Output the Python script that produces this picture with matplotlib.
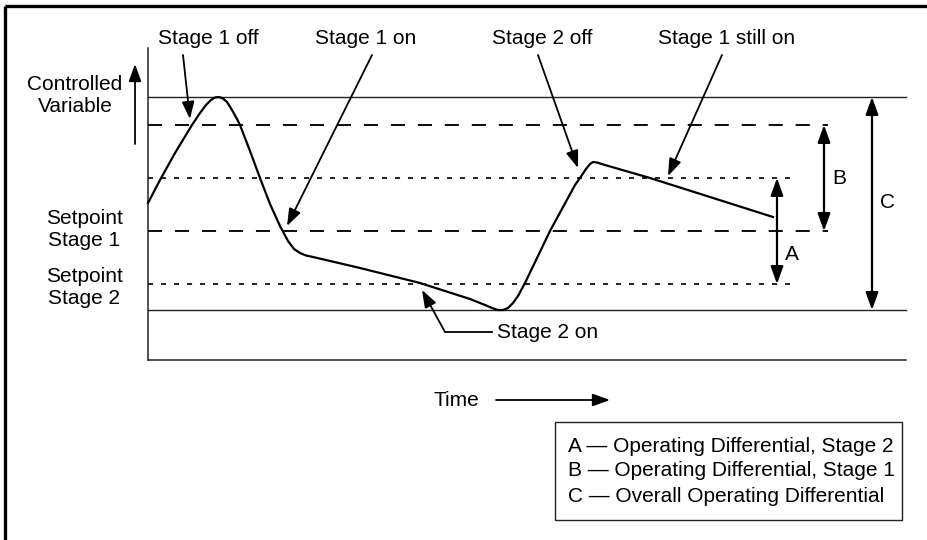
import matplotlib
matplotlib.use("Agg")
import matplotlib.pyplot as plt

# ---------------- data (diagram coordinates: x = time, y = screen-down value) -------------
curve_t = [148, 160, 175, 192, 200, 206, 211, 215, 219, 223, 227, 232, 237, 240, 250, 260,
           270, 280, 288, 294, 300, 306, 313, 360, 420, 470, 485, 492, 498, 503, 508, 513,
           518, 525, 550, 575, 580, 586, 590, 593, 597, 605, 650, 773]
curve_v = [203, 180, 153, 125, 113, 105, 100, 97.5, 97, 98.5, 102, 110, 119, 125, 151, 178,
           204, 226, 241, 249, 253, 255.5, 257, 268, 283, 299, 305, 308, 310, 310, 308, 303,
           296, 283, 231, 185, 178, 169, 164, 162, 162.5, 165, 178, 217]

# horizontal reference levels: (value, style, x_end)
level_values = [97, 125, 178, 231, 284, 310]
level_styles = ["solid", "dashed", "dotted", "dashed", "dotted", "solid"]
level_ends = [906, 828, 793, 828, 793, 906]

axis_left = 148
axis_top = 48
axis_bottom = 360
axis_right = 906

# differential arrows: (label, x, y_from, y_to, label_x, label_y)
diff_labels = ["A", "B", "C"]
diff_x = [777, 824, 872]
diff_from = [178, 125, 97]
diff_to = [284, 231, 310]
diff_label_pos = [(792, 254), (839, 178), (888, 202)]

# event annotations: text, text position, arrow start, arrow tip
event_texts = ["Stage 1 off", "Stage 1 on", "Stage 2 off", "Stage 1 still on"]
event_text_pos = [(208, 38), (366, 38), (542, 38), (727, 38)]
event_arrow_start = [(183, 55), (372, 55), (538, 55), (722, 55)]
event_arrow_tip = [(190, 119), (287, 226), (578, 168), (668, 176)]

legend_lines = ["A \u2014 Operating Differential, Stage 2",
                "B \u2014 Operating Differential, Stage 1",
                "C \u2014 Overall Operating Differential"]

FONT = "Liberation Sans"
FS = 15

fig = plt.figure(figsize=(9.27, 5.40), dpi=100)
ax = fig.add_axes([0, 0, 1, 1])
ax.set_xlim(0, 927)
ax.set_ylim(540, 0)
ax.axis("off")

# outer frame (top and left)
ax.plot([5.5, 927], [5.5, 5.5], color="black", lw=2.4, solid_capstyle="butt")
ax.plot([5.5, 5.5], [5.5, 540], color="black", lw=2.4, solid_capstyle="butt")

# axes lines
ax.plot([axis_left, axis_left], [axis_top, axis_bottom], color="#222222", lw=1.1)
ax.plot([axis_left, axis_right], [axis_bottom, axis_bottom], color="#222222", lw=1.1)

# levels
for v, s, xe in zip(level_values, level_styles, level_ends):
    if s == "solid":
        ax.plot([axis_left, xe], [v, v], color="#222222", lw=1.0)
    elif s == "dashed":
        ax.plot([axis_left, xe], [v, v], color="#111111", lw=1.45,
                linestyle=(0, (7.0, 6.4)), dash_capstyle="butt")
    else:
        ax.plot([axis_left, xe], [v, v], color="#111111", lw=1.3,
                linestyle=(0, (2.8, 4.4)), dash_capstyle="butt")

# curve
ax.plot(curve_t, curve_v, color="black", lw=1.6, solid_joinstyle="round")

arrow_kw = dict(arrowstyle="-|>,head_length=0.75,head_width=0.27", color="black",
                lw=1.3, shrinkA=0, shrinkB=0, mutation_scale=14)

# event annotations
for txt, tp, a0, a1 in zip(event_texts, event_text_pos, event_arrow_start, event_arrow_tip):
    ax.text(tp[0], tp[1], txt, ha="center", va="center", fontsize=FS, family=FONT)
    ax.annotate("", xy=a1, xytext=a0, arrowprops=arrow_kw)

# Stage 2 on leader
ax.text(497, 332, "Stage 2 on", ha="left", va="center", fontsize=FS, family=FONT)
ax.plot([492, 445], [332, 332], color="black", lw=1.3)
ax.annotate("", xy=(422, 290), xytext=(445, 332), arrowprops=arrow_kw)

# differential arrows
darrow_kw = dict(arrowstyle="<|-|>,head_length=0.75,head_width=0.27", color="black",
                 lw=1.6, shrinkA=0, shrinkB=0, mutation_scale=14)
for lab, x, y0, y1, lp in zip(diff_labels, diff_x, diff_from, diff_to, diff_label_pos):
    ax.annotate("", xy=(x, y1), xytext=(x, y0), arrowprops=darrow_kw)
    ax.text(lp[0], lp[1], lab, ha="center", va="center", fontsize=FS, family=FONT)

# left labels
ax.text(75, 96, "Controlled\nVariable", ha="center", va="center", fontsize=FS,
        family=FONT, linespacing=1.2)
ax.annotate("", xy=(135, 64), xytext=(135, 144), arrowprops=arrow_kw)
ax.text(84, 230, "Setpoint\nStage 1", ha="center", va="center", fontsize=FS,
        family=FONT, linespacing=1.2)
ax.text(84, 287, "Setpoint\nStage 2", ha="center", va="center", fontsize=FS,
        family=FONT, linespacing=1.2)

# time axis label
ax.text(456, 400, "Time", ha="center", va="center", fontsize=FS, family=FONT)
ax.annotate("", xy=(610, 400), xytext=(496, 400), arrowprops=arrow_kw)

# legend box
ax.add_patch(plt.Rectangle((555, 422), 347, 98, fill=False, edgecolor="#222222", lw=1.0))
for i, line in enumerate(legend_lines):
    ax.text(568, 446 + 25 * i, line, ha="left", va="center", fontsize=FS, family=FONT)

fig.savefig("out.png", dpi=100)
